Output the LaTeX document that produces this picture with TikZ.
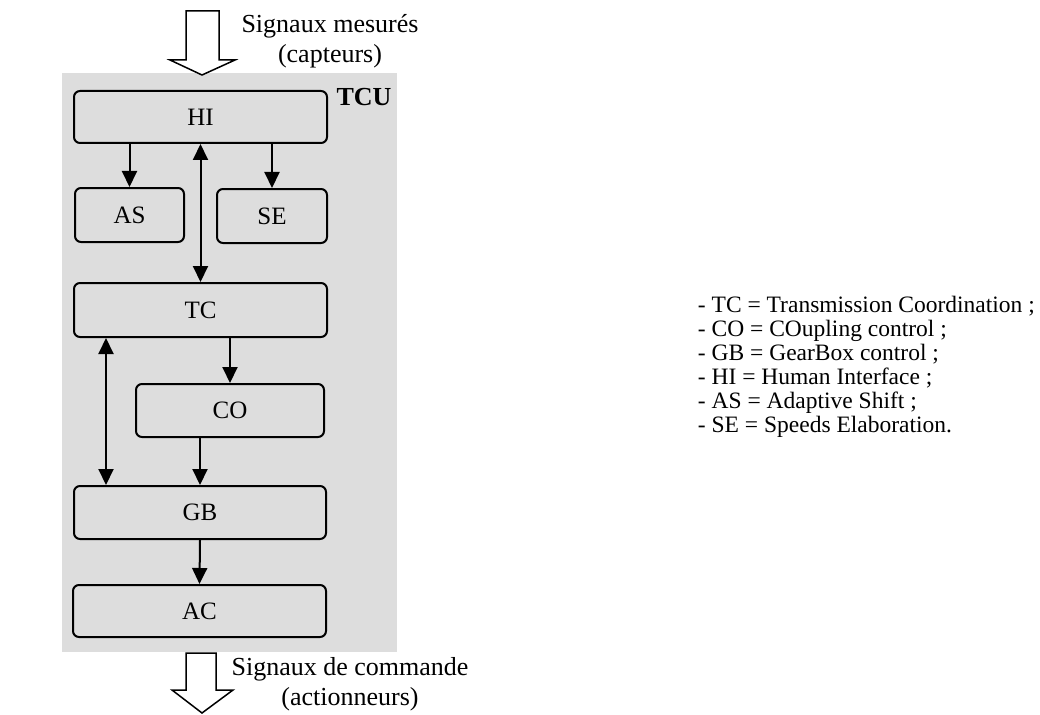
\documentclass[tikz,border=0pt]{standalone}
\usepackage{fontspec}
\setmainfont{Liberation Serif}
\usetikzlibrary{arrows.meta}
\definecolor{tcugray}{RGB}{221,221,221}

\begin{document}
\begin{tikzpicture}[x=1pt, y=-1pt,
  blok/.style={draw, line width=2pt, rounded corners=6pt, fill=tcugray, inner sep=0pt, font=\fontsize{25}{25}\selectfont},
  flow/.style={line width=2pt, -{Triangle[length=16pt, width=15pt]}},
  flowboth/.style={line width=2pt, {Triangle[length=16pt, width=15pt]}-{Triangle[length=16pt, width=15pt]}},
  bigarrow/.style={draw, line width=1.5pt, fill=white},
  txt/.style={inner sep=0pt, align=center, font=\fontsize{26}{30}\selectfont}]
\useasboundingbox (0,0) rectangle (1040,714);
% TCU block
\fill[tcugray] (62,73) rectangle (397,652);
\node[font=\bfseries\fontsize{26}{26}\selectfont, inner sep=0pt] (tcu) at (364,97) {TCU};
\node[blok, minimum width=253pt, minimum height=52pt] (hi) at (200.5,117) {HI};
\node[blok, minimum width=109pt, minimum height=54pt] (as) at (129.5,215) {AS};
\node[blok, minimum width=110pt, minimum height=54pt] (se) at (272,216) {SE};
\node[blok, minimum width=253pt, minimum height=54pt] (tc) at (200.5,310) {TC};
\node[blok, minimum width=188pt, minimum height=53pt] (co) at (230,410.5) {CO};
\node[blok, minimum width=252pt, minimum height=53pt] (gb) at (200,512.5) {GB};
\node[blok, minimum width=253pt, minimum height=52pt] (ac) at (199.5,611) {AC};
% links
\draw[flow] (as.north |- hi.south) -- (as.north);
\draw[flow] (se.north |- hi.south) -- (se.north);
\draw[flowboth] (hi.south) -- (tc.north);
\draw[flow] (co.north |- tc.south) -- (co.north);
\draw[flowboth] ([xshift=33pt]tc.south west) -- ([xshift=33pt]gb.north west);
\draw[flow] (gb.north |- co.south) -- (gb.north);
\draw[flow] (gb.south) -- (ac.north);
% in / out
\draw[bigarrow] (186,11) -- (219,11) -- (219,60) -- (235,60) -- (202,75) -- (170,60) -- (186,60) -- cycle;
\draw[bigarrow] (186,653) -- (216,653) -- (216,690) -- (233,690) -- (202,713) -- (172,690) -- (186,690) -- cycle;
\node[txt, anchor=north] (sigmes) at (330,14) {Signaux mesurés\\(capteurs)};
\node[txt, anchor=north] (sigcmd) at (350,657) {Signaux de commande\\(actionneurs)};
% legend
\node[anchor=north east, align=left, inner sep=0pt, font=\fontsize{23.5}{24}\selectfont] (legend) at (1035,296)
  {- TC = Transmission Coordination ;\\
   - CO = COupling control ;\\
   - GB = GearBox control ;\\
   - HI = Human Interface ;\\
   - AS = Adaptive Shift ;\\
   - SE = Speeds Elaboration.};
\end{tikzpicture}
\end{document}
